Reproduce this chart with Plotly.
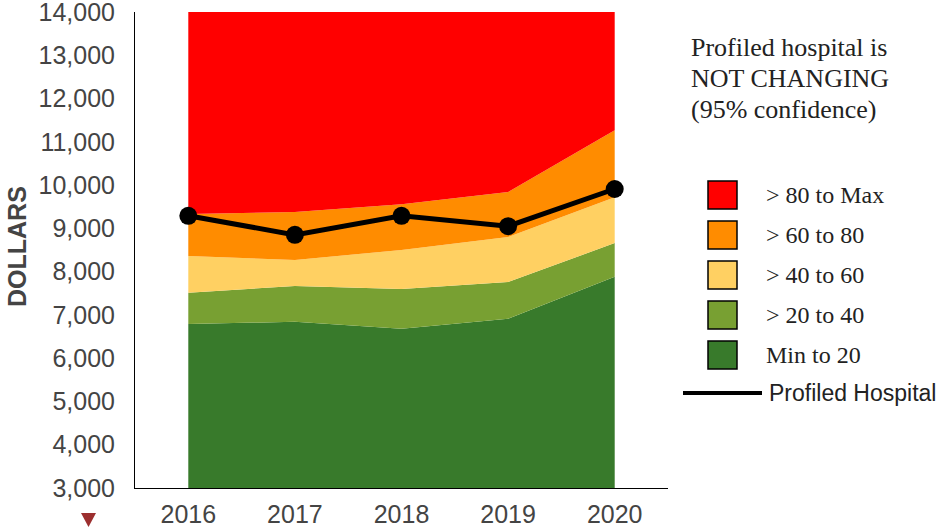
import plotly.graph_objects as go

years = [2016, 2017, 2018, 2019, 2020]
# Top of each percentile band (cumulative dollar values)
band_min_20 = [6790, 6840, 6680, 6910, 7880]
band_20_40 = [7510, 7670, 7600, 7760, 8660]
band_40_60 = [8360, 8270, 8500, 8800, 9720]
band_60_80 = [9330, 9380, 9560, 9840, 11270]
band_80_max = [14000, 14000, 14000, 14000, 14000]
profiled = [9290, 8850, 9290, 9050, 9910]

band_names = ["Min to 20", "> 20 to 40", "> 40 to 60", "> 60 to 80", "> 80 to Max"]
band_values = [band_min_20, band_20_40, band_40_60, band_60_80, band_80_max]
band_colors = ["#387A2B", "#78A032", "#FFD062", "#FF8C00", "#FF0000"]

y_ticks = list(range(3000, 14001, 1000))
y_tick_text = [f"{v:,}" for v in y_ticks]

title_lines = ["Profiled hospital is", "NOT CHANGING", "(95% confidence)"]

fig = go.Figure()
for i, (name, vals, col) in enumerate(zip(band_names, band_values, band_colors)):
    fig.add_trace(go.Scatter(
        x=years, y=vals, name=name, mode="lines",
        line=dict(width=0, color=col),
        fill="tozeroy" if i == 0 else "tonexty",
        fillcolor=col, showlegend=False, hoverinfo="skip",
    ))

fig.add_trace(go.Scatter(
    x=years, y=profiled, name="Profiled Hospital", mode="lines+markers",
    line=dict(color="black", width=5),
    marker=dict(color="black", size=18),
    showlegend=False, cliponaxis=False,
))

fig.update_layout(
    width=944, height=528,
    margin=dict(l=135, r=276, t=12, b=40, autoexpand=False),
    plot_bgcolor="white", paper_bgcolor="white",
    font=dict(family="Liberation Sans, Arial", color="#444444"),
    xaxis=dict(
        range=[2015.5, 2020.5], tickmode="array", tickvals=years,
        ticktext=[str(y) for y in years], automargin=False,
        showgrid=False, zeroline=False, showline=True, linecolor="black",
        linewidth=1, ticks="", tickfont=dict(size=25, color="#444444"),
        ticklabelstandoff=4, ticklabeloverflow="allow",
    ),
    yaxis=dict(
        range=[3000, 14000], tickmode="array", tickvals=y_ticks,
        ticktext=y_tick_text, showgrid=False, zeroline=False, automargin=False,
        showline=True, linecolor="black", linewidth=1, ticks="",
        tickfont=dict(size=25, color="#444444"), ticklabelstandoff=14,
        ticklabeloverflow="allow",
    ),
)

shapes = []
annotations = []

# Y axis title
annotations.append(dict(
    xref="paper", yref="paper", x=0, y=0.5, xanchor="center", yanchor="middle",
    xshift=-118, yshift=3, showarrow=False, textangle=-90,
    text="<b>DOLLARS</b>", font=dict(family="Liberation Sans, Arial", size=25, color="#444444"),
))

# Legend swatches (anchored at top-right corner of plot area)
sw_tops = [181, 221, 261, 301, 341]
legend_order = list(range(len(band_names)))[::-1]
for k, idx in enumerate(legend_order):
    top = sw_tops[k]
    shapes.append(dict(
        type="rect", xref="paper", yref="paper",
        xsizemode="pixel", ysizemode="pixel", xanchor=1, yanchor=1,
        x0=40, x1=69, y0=-(top - 12), y1=-(top + 28 - 12),
        fillcolor=band_colors[idx], line=dict(color="black", width=1.5),
    ))
    annotations.append(dict(
        xref="paper", yref="paper", x=1, y=1, xanchor="left", yanchor="middle",
        xshift=96, yshift=-(top + 14 - 12), showarrow=False,
        text=band_names[idx],
        font=dict(family="Liberation Serif, Times New Roman", size=24, color="#222222"),
    ))

# Profiled Hospital legend line
shapes.append(dict(
    type="line", xref="paper", yref="paper",
    xsizemode="pixel", ysizemode="pixel", xanchor=1, yanchor=1,
    x0=15, x1=94, y0=-381, y1=-381, line=dict(color="black", width=4),
))
annotations.append(dict(
    xref="paper", yref="paper", x=1, y=1, xanchor="left", yanchor="middle",
    xshift=99, yshift=-381, showarrow=False, text="Profiled Hospital",
    font=dict(family="Liberation Sans, Arial", size=23, color="#222222"),
))

# Title lines
for j, line in enumerate(title_lines):
    annotations.append(dict(
        xref="paper", yref="paper", x=1, y=1, xanchor="left", yanchor="middle",
        xshift=21, yshift=-(47 + 31 * j - 12), showarrow=False, text=line,
        font=dict(family="Liberation Serif, Times New Roman", size=26, color="#222222"),
    ))

# Small red triangle marker below the axis
shapes.append(dict(
    type="path", xref="paper", yref="paper",
    xsizemode="pixel", ysizemode="pixel", xanchor=0, yanchor=0,
    path="M -54 -25 L -39 -25 L -46.5 -39 Z",
    fillcolor="#9C2F2F", line=dict(width=0),
))

fig.update_layout(shapes=shapes, annotations=annotations)
fig.write_html(
    "out.html",
    config={"displayModeBar": False},
    post_script="document.body.style.margin='0';document.body.style.overflow='hidden';",
)
